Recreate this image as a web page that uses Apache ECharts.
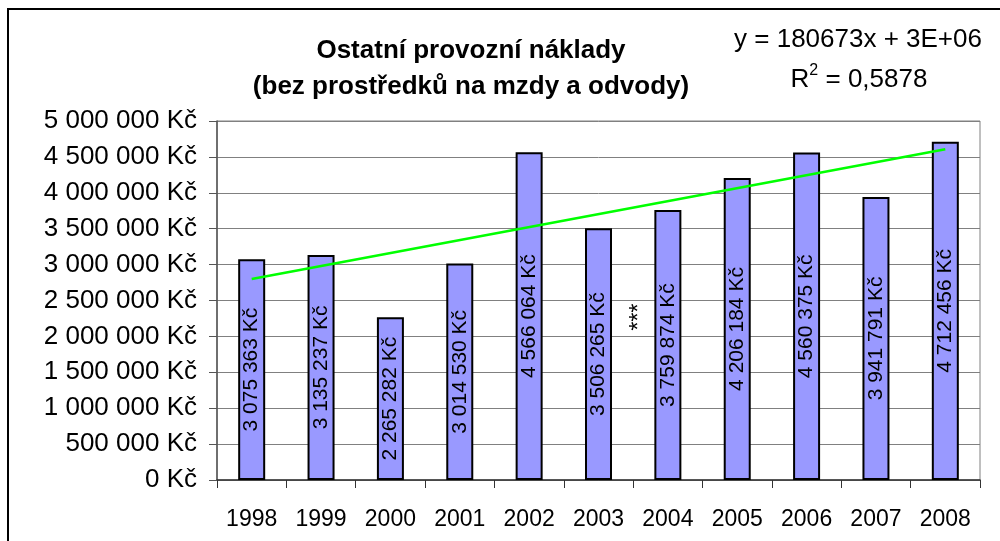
<!DOCTYPE html>
<html>
<head>
<meta charset="utf-8">
<script src="https://cdn.jsdelivr.net/npm/echarts@6/dist/echarts.min.js"></script>
<style>
html,body{margin:0;padding:0;background:#fff;}
#chart{width:1000px;height:541px;}
</style>
</head>
<body>
<div id="chart"></div>
<script>
var years = ['1998','1999','2000','2001','2002','2003','2004','2005','2006','2007','2008'];
var costs = [3075363, 3135237, 2265282, 3014530, 4566064, 3506265, 3759874, 4206184, 4560375, 3941791, 4712456];
var trendEnds = [2800582, null, null, null, null, null, null, null, null, null, 4607312];
var yTicks = {min: 0, max: 5000000, interval: 500000};
var titleLines = ['Ostatní provozní náklady', '(bez prostředků na mzdy a odvody)'];
var equationText = 'y = 180673x + 3E+06';
var r2Text = '0,5878';
var noteText = '***';
var noteValue = 2270000;

var FONT = 'Liberation Sans, Arial, sans-serif';
function fmt(v) {
  var s = String(Math.round(v));
  return s.replace(/\B(?=(\d{3})+(?!\d))/g, ' ') + ' Kč';
}

var chart = echarts.init(document.getElementById('chart'));
var option = {
  animation: false,
  backgroundColor: '#ffffff',
  textStyle: {fontFamily: FONT},
  grid: {left: 217, top: 121, right: 20, bottom: 61, show: true, borderColor: '#808080', borderWidth: 1, backgroundColor: 'transparent'},
  xAxis: {
    type: 'category',
    data: years,
    boundaryGap: true,
    axisLine: {lineStyle: {color: '#333', width: 1.5}},
    axisTick: {show: true, interval: 0, length: 8, lineStyle: {color: '#333'}},
    axisLabel: {fontSize: 23, color: '#000', margin: 28, fontFamily: FONT, interval: 0}
  },
  yAxis: {
    type: 'value',
    min: yTicks.min, max: yTicks.max, interval: yTicks.interval,
    axisLine: {show: true, lineStyle: {color: '#555', width: 1.5}},
    axisTick: {show: true, length: 8, lineStyle: {color: '#555'}},
    splitLine: {lineStyle: {color: '#808080', width: 1}},
    axisLabel: {fontSize: 26, color: '#000', margin: 20, fontFamily: FONT, formatter: fmt}
  },
  series: [
    {
      type: 'bar',
      data: costs,
      barWidth: 27,
      itemStyle: {color: '#9999ff', borderColor: '#000', borderWidth: 2},
      label: {
        show: true, position: 'inside', rotate: 90,
        fontSize: 21, color: '#000', fontFamily: FONT,
        formatter: function (p) { return fmt(p.value); }
      },
      z: 2
    },
    {
      type: 'line',
      data: trendEnds,
      connectNulls: true,
      symbol: 'none',
      lineStyle: {color: '#00ff00', width: 2.5},
      z: 3
    }
  ]
};
chart.setOption(option);

var p3 = chart.convertToPixel({xAxisIndex: 0, yAxisIndex: 0}, ['2003', noteValue]);
var p4 = chart.convertToPixel({xAxisIndex: 0, yAxisIndex: 0}, ['2004', noteValue]);
chart.setOption({
  graphic: [
    {type: 'rect', shape: {x: 8, y: 9, width: 1010, height: 560}, style: {fill: 'none', stroke: '#000', lineWidth: 2}, silent: true, z: -1},
    {type: 'text', x: 471, y: 51, style: {text: titleLines[0], font: 'bold 26px ' + FONT, fill: '#000', align: 'center', verticalAlign: 'middle'}},
    {type: 'text', x: 471, y: 87, style: {text: titleLines[1], font: 'bold 26px ' + FONT, fill: '#000', align: 'center', verticalAlign: 'middle'}},
    {type: 'text', x: 858, y: 40, style: {text: equationText, font: '26px ' + FONT, fill: '#000', align: 'center', verticalAlign: 'middle'}},
    {type: 'text', x: 859, y: 78, style: {text: '{a|R}{s|2}{a| = ' + r2Text + '}', font: '26px ' + FONT, fill: '#000', align: 'center', verticalAlign: 'middle',
      rich: {a: {font: '26px ' + FONT, fill: '#000', verticalAlign: 'bottom', lineHeight: 30}, s: {font: '16px ' + FONT, fill: '#000', verticalAlign: 'top', lineHeight: 30, padding: [0, 0, 12, 0]}}}},
    {type: 'text', x: (p3[0] + p4[0]) / 2 + 6, y: p3[1], rotation: Math.PI / 2, style: {text: noteText, font: '23px ' + FONT, fill: '#000', align: 'center', verticalAlign: 'middle'}}
  ]
});
</script>
</body>
</html>
